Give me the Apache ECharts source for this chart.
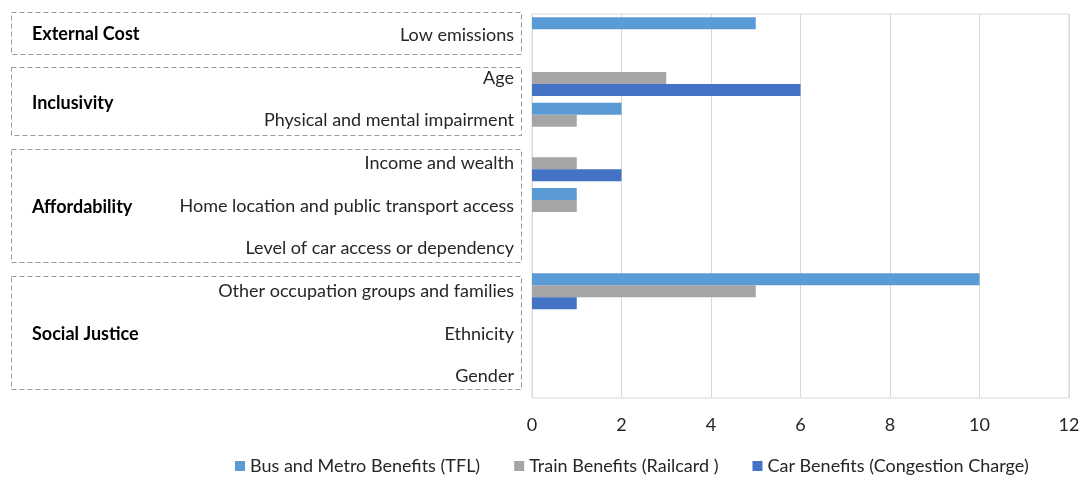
<!DOCTYPE html>
<html>
<head>
<meta charset="utf-8">
<script src="https://cdn.jsdelivr.net/npm/echarts@6/dist/echarts.min.js"></script>
<style>
  html, body { margin: 0; padding: 0; background: #fff; }
  #main { width: 1083px; height: 477px; }
</style>
</head>
<body>
<div id="main"></div>
<script>
var categories = [
  "Low emissions",
  "Age",
  "Physical and mental impairment",
  "Income and wealth",
  "Home location and public transport access",
  "Level of car access or dependency",
  "Other occupation groups and families",
  "Ethnicity",
  "Gender"
];
var busMetro = [5, 0, 2, 0, 1, 0, 10, 0, 0];
var train = [0, 3, 1, 1, 1, 0, 5, 0, 0];
var car = [0, 6, 0, 2, 0, 0, 1, 0, 0];
var seriesNames = [
  "Bus and Metro Benefits (TFL)",
  "Train Benefits (Railcard )",
  "Car Benefits (Congestion Charge)"
];
var groupNames = ["External Cost", "Inclusivity", "Affordability", "Social Justice"];

var font = "Lato, 'Open Sans', sans-serif";
var textColor = "#262626";

// dashed group boxes drawn as decoration on the left
var boxes = [
  { y: 12, h: 42, labelY: 34 },
  { y: 67, h: 68, labelY: 103 },
  { y: 149, h: 113, labelY: 207 },
  { y: 276, h: 113, labelY: 334 }
];
var graphics = [];
boxes.forEach(function (b, i) {
  graphics.push({
    type: "rect",
    shape: { x: 11.5, y: b.y + 0.5, width: 510, height: b.h },
    style: { fill: "none", stroke: "#999", lineWidth: 1, lineDash: [5, 3] },
    z: 1
  });
  graphics.push({
    type: "text",
    x: 32,
    y: b.labelY,
    style: {
      text: groupNames[i],
      font: "bold 18px " + font,
      fill: "#000",
      textVerticalAlign: "middle"
    },
    z: 2
  });
});

var colors = ["#5b9bd5", "#a5a5a5", "#4472c4"];
var chart = echarts.init(document.getElementById("main"));
var option = {
  animation: false,
  color: colors,
  textStyle: { fontFamily: font },
  grid: {
    left: 532,
    right: 14,
    top: 14,
    bottom: 79,
    show: true,
    borderColor: "#d9d9d9",
    borderWidth: 1
  },
  legend: {
    top: 452,
    left: 230,
    itemWidth: 10,
    itemHeight: 10,
    itemGap: 34,
    icon: "rect",
    textStyle: { fontSize: 18, color: textColor, fontFamily: font },
    data: seriesNames
  },
  xAxis: {
    type: "value",
    min: 0,
    max: 12,
    interval: 2,
    axisLine: { show: false },
    axisTick: { show: false },
    splitLine: { lineStyle: { color: "#d9d9d9", width: 1 } },
    axisLabel: { fontSize: 18, color: textColor, margin: 18, fontFamily: font }
  },
  yAxis: {
    type: "category",
    inverse: true,
    data: categories,
    axisLine: { show: false },
    axisTick: { show: false },
    axisLabel: { fontSize: 18, color: textColor, margin: 18, fontFamily: font }
  },
  graphic: graphics,
  series: [
    { name: seriesNames[0], type: "bar", data: busMetro, barWidth: 12, barGap: "0%" },
    { name: seriesNames[1], type: "bar", data: train, barWidth: 12, barGap: "0%" },
    { name: seriesNames[2], type: "bar", data: car, barWidth: 12, barGap: "0%" }
  ]
};
chart.setOption(option);
</script>
</body>
</html>
